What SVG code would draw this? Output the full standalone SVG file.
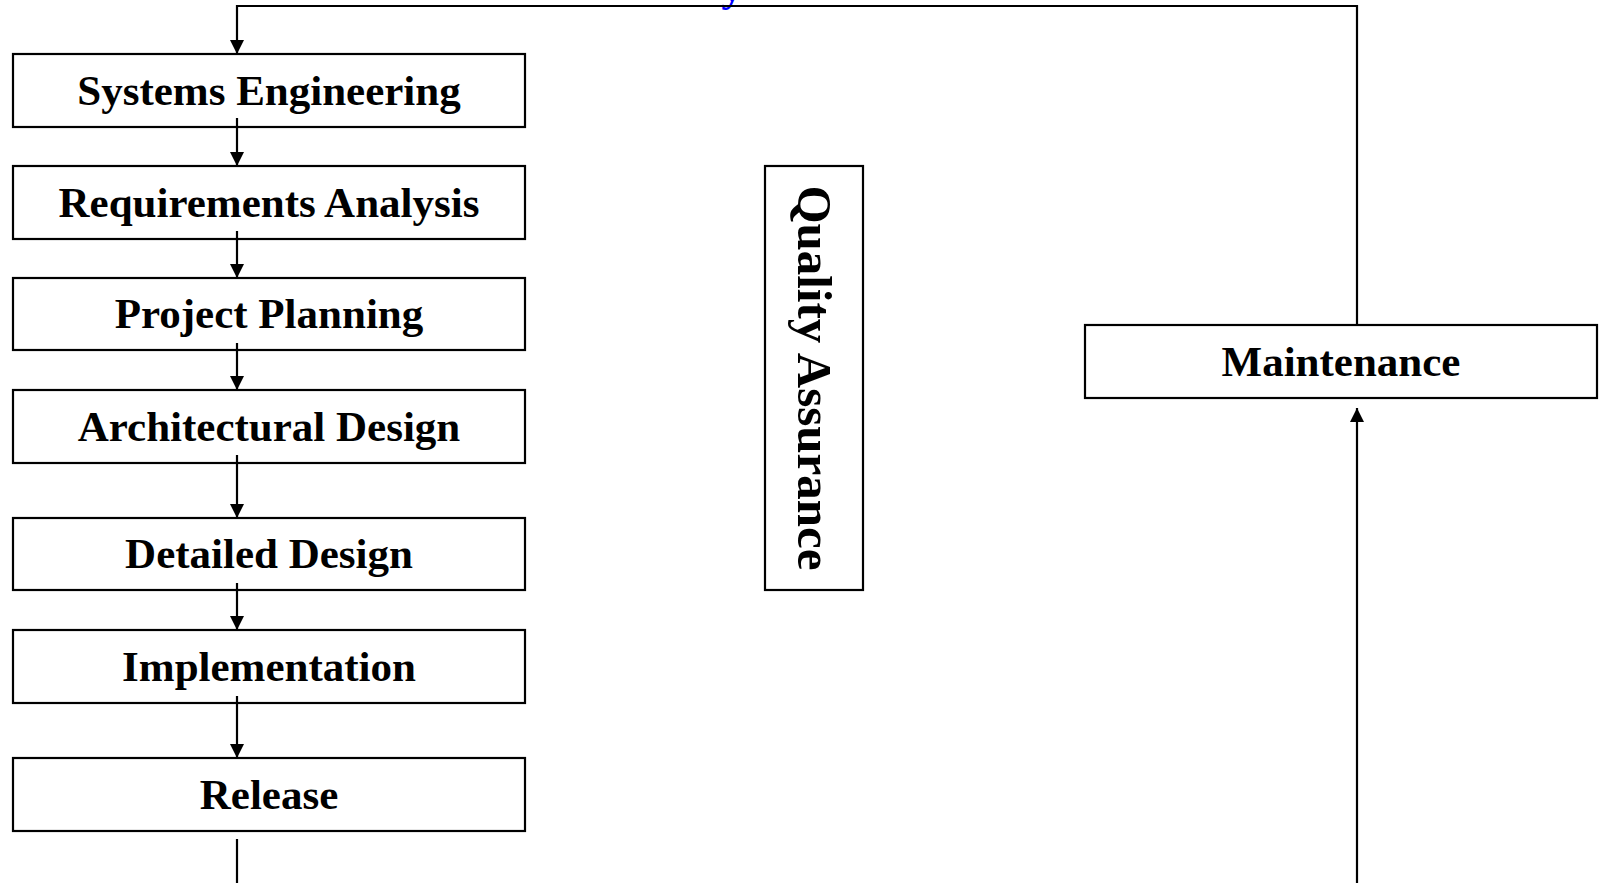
<svg xmlns="http://www.w3.org/2000/svg" width="1602" height="883" viewBox="0 0 1602 883">
<style>
.box{fill:#fff;stroke:#000;stroke-width:2.2}
.lbl{font-family:"Liberation Serif","Times New Roman",serif;font-weight:bold;font-size:43px;fill:#000;text-anchor:middle}
.con{fill:none;stroke:#000;stroke-width:2.2}
</style>
<defs>
<marker id="arr" viewBox="0 0 10 10" refX="10" refY="5" markerWidth="15" markerHeight="14" markerUnits="userSpaceOnUse" orient="auto">
<path d="M0,0 L10,5 L0,10 Z" fill="#000"/>
</marker>
</defs>
<rect width="1602" height="883" fill="#fff"/>
<text x="732" y="1" font-family="Liberation Serif, serif" font-weight="bold" font-size="43" fill="#0000ff" text-anchor="middle">y</text>
<g id="n-systems"><rect class="box" x="13" y="54" width="512" height="73"/><text class="lbl" x="269" y="105">Systems Engineering</text></g>
<g id="n-requirements"><rect class="box" x="13" y="166" width="512" height="73"/><text class="lbl" x="269" y="217">Requirements Analysis</text></g>
<g id="n-planning"><rect class="box" x="13" y="278" width="512" height="72"/><text class="lbl" x="269" y="328">Project Planning</text></g>
<g id="n-architectural"><rect class="box" x="13" y="390" width="512" height="73"/><text class="lbl" x="269" y="441">Architectural Design</text></g>
<g id="n-detailed"><rect class="box" x="13" y="518" width="512" height="72"/><text class="lbl" x="269" y="568">Detailed Design</text></g>
<g id="n-implementation"><rect class="box" x="13" y="630" width="512" height="73"/><text class="lbl" x="269" y="681">Implementation</text></g>
<g id="n-release"><rect class="box" x="13" y="758" width="512" height="73"/><text class="lbl" x="269" y="809">Release</text></g>
<g id="n-qa"><rect class="box" x="765" y="166" width="98" height="424"/><text class="lbl" style="font-size:49px" transform="translate(814,378) rotate(90)" x="0" y="16">Quality Assurance</text></g>
<g id="n-maintenance"><rect class="box" x="1085" y="325" width="512" height="73"/><text class="lbl" x="1341" y="376">Maintenance</text></g>
<g id="connectors">
<path class="con" d="M237,118 V166" marker-end="url(#arr)"/>
<path class="con" d="M237,231 V278" marker-end="url(#arr)"/>
<path class="con" d="M237,343 V390" marker-end="url(#arr)"/>
<path class="con" d="M237,455 V518" marker-end="url(#arr)"/>
<path class="con" d="M237,583 V630" marker-end="url(#arr)"/>
<path class="con" d="M237,696 V758" marker-end="url(#arr)"/>
<path class="con" d="M237,839 V883"/>
<path class="con" d="M1357,883 V408" marker-end="url(#arr)"/>
<path class="con" d="M1357,325 V6 H237 V54" marker-end="url(#arr)"/>
</g>
</svg>
